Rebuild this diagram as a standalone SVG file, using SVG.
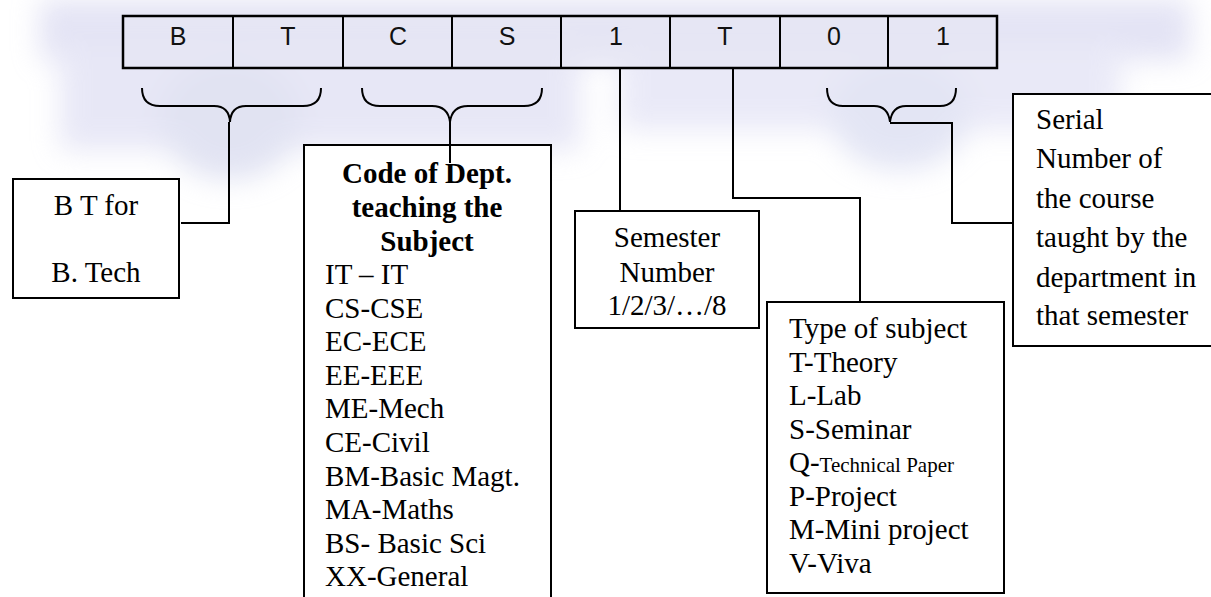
<svg xmlns="http://www.w3.org/2000/svg" width="1211" height="597" viewBox="0 0 1211 597">
<defs>
<style>
.ln{fill:none;stroke:#000;stroke-width:2}
.bx{fill:#fff;stroke:#000;stroke-width:2}
.cell{font-family:"Liberation Sans",Arial,sans-serif;font-size:25px;text-anchor:middle;fill:#111}
.t{font-family:"Liberation Serif","Times New Roman",serif;font-size:29px;fill:#000}
.b{font-family:"Liberation Serif","Times New Roman",serif;font-size:29px;font-weight:bold;fill:#000;text-anchor:middle}
.c{text-anchor:middle}
</style>
<filter id="blur" x="-20%" y="-50%" width="140%" height="200%"><feGaussianBlur stdDeviation="14"/></filter>
</defs>
<rect width="1211" height="597" fill="#fff"/>
<g id="watermark" filter="url(#blur)" opacity="0.5">
<rect x="40" y="0" width="1150" height="60" fill="#c8c8ea"/>
<rect x="60" y="40" width="520" height="110" fill="#d0d0ee"/>
<rect x="620" y="40" width="500" height="90" fill="#d4d4f0"/>
<ellipse cx="230" cy="120" rx="70" ry="60" fill="#c4c8e6"/>
<ellipse cx="900" cy="115" rx="70" ry="55" fill="#c8ccea"/>
</g>
<g id="code-row">
<rect x="123" y="16" width="874" height="52" fill="#e6e6f4" fill-opacity="0.6" stroke="#000" stroke-width="2.5"/>
<path class="ln" d="M233 16V68M343 16V68M452 16V68M561 16V68M670 16V68M780 16V68M888 16V68" stroke-width="2.5"/>
<text class="cell" x="178" y="45">B</text>
<text class="cell" x="288" y="45">T</text>
<text class="cell" x="398" y="45">C</text>
<text class="cell" x="507" y="45">S</text>
<text class="cell" x="616" y="45">1</text>
<text class="cell" x="725" y="45">T</text>
<text class="cell" x="834" y="45">0</text>
<text class="cell" x="943" y="45">1</text>
</g>
<g id="connectors">
<path class="ln" d="M142 88Q142 106 160 106H214Q229 106 230 122Q231 106 246 106H303Q321 106 321 88"/>
<path class="ln" d="M362 88Q362 106 380 106H432Q448 106 450 122Q452 106 468 106H524Q542 106 542 88"/>
<path class="ln" d="M827 88Q827 106 843 106H874Q888 106 890 122Q892 106 906 106H940Q956 106 956 88"/>
<path class="ln" d="M229 122V223H181"/>
<path class="ln" d="M450 122V163"/>
<path class="ln" d="M620 68V211"/>
<path class="ln" d="M733 68V198H860V302"/>
<path class="ln" d="M890 123H952V223H1013"/>
</g>
<g id="node-bt">
<rect class="bx" x="13" y="179" width="166" height="119"/>
<text class="t c" x="96" y="215">B T for</text>
<text class="t c" x="96" y="282">B. Tech</text>
</g>
<g id="node-dept">
<path class="bx" d="M304 600V145H551V600"/>
<path class="ln" d="M450 145V163"/>
<text class="b" x="427" y="183">Code of Dept.</text>
<text class="b" x="427" y="217">teaching the</text>
<text class="b" x="427" y="251">Subject</text>
<text class="t" x="325" y="284">IT – IT</text>
<text class="t" x="325" y="318">CS-CSE</text>
<text class="t" x="325" y="351">EC-ECE</text>
<text class="t" x="325" y="385">EE-EEE</text>
<text class="t" x="325" y="418">ME-Mech</text>
<text class="t" x="325" y="452">CE-Civil</text>
<text class="t" x="325" y="486">BM-Basic Magt.</text>
<text class="t" x="325" y="519">MA-Maths</text>
<text class="t" x="325" y="553">BS- Basic Sci</text>
<text class="t" x="325" y="586">XX-General</text>
</g>
<g id="node-semester">
<rect class="bx" x="575" y="211" width="184" height="117"/>
<text class="t c" x="667" y="247">Semester</text>
<text class="t c" x="667" y="282">Number</text>
<text class="t c" x="667" y="315">1/2/3/…/8</text>
</g>
<g id="node-type">
<rect class="bx" x="767" y="302" width="237" height="291"/>
<text class="t" x="789" y="338">Type of subject</text>
<text class="t" x="789" y="372">T-Theory</text>
<text class="t" x="789" y="405">L-Lab</text>
<text class="t" x="789" y="439">S-Seminar</text>
<text class="t" x="789" y="472">Q-<tspan font-size="21">Technical Paper</tspan></text>
<text class="t" x="789" y="506">P-Project</text>
<text class="t" x="789" y="539">M-Mini project</text>
<text class="t" x="789" y="573">V-Viva</text>
</g>
<g id="node-serial">
<path class="bx" d="M1212 94H1013V346H1212"/>
<text class="t" x="1036" y="129">Serial</text>
<text class="t" x="1036" y="168">Number of</text>
<text class="t" x="1036" y="208">the course</text>
<text class="t" x="1036" y="247">taught by the</text>
<text class="t" x="1036" y="287">department in</text>
<text class="t" x="1036" y="325">that semester</text>
</g>
</svg>
